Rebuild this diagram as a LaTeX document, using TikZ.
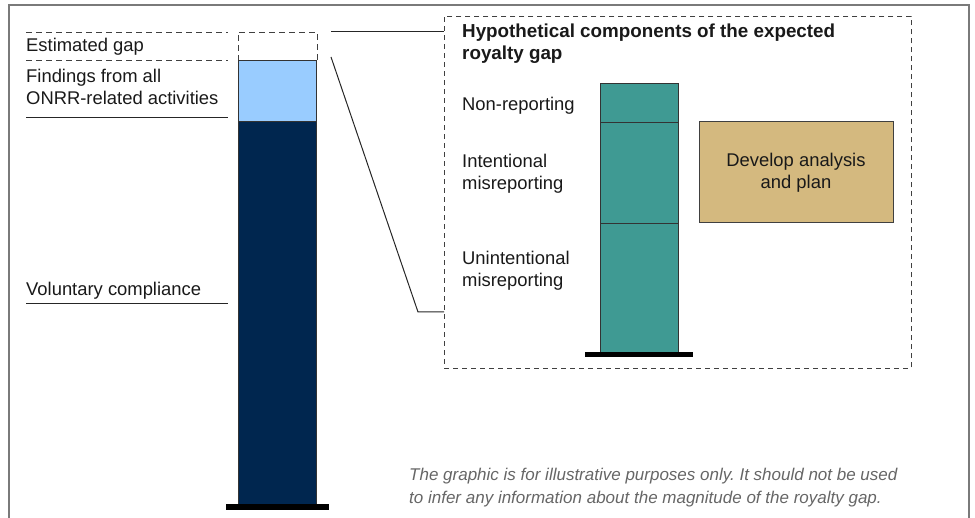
\documentclass[tikz,border=0pt]{standalone}
\usepackage{fontspec}
\setmainfont{Liberation Sans}
\frenchspacing
\definecolor{navy}{HTML}{00264F}
\definecolor{lightb}{HTML}{99CCFF}
\definecolor{teal2}{HTML}{3F9A93}
\definecolor{tan2}{HTML}{D4B97F}
\definecolor{framegray}{HTML}{7A7A7A}
\definecolor{notegray}{HTML}{666666}
\newcommand{\twolines}[2]{\parbox[t]{480pt}{\raggedright #1\\#2}}
\tikzset{
  lbl/.style={anchor=base west, inner sep=0pt, font=\fontsize{18.4}{22}\selectfont, text=black!90},
  barseg/.style={draw=black!80, line width=0.9pt, minimum width=78pt, anchor=north west, inner sep=0pt},
  basebar/.style={fill=black, draw=none, anchor=north west, inner sep=0pt},
  dashln/.style={draw=black!75, line width=0.8pt, dash pattern=on 6pt off 4pt},
  solidln/.style={draw=black!85, line width=1pt},
  conn/.style={draw=black!85, line width=1pt},
  framel/.style={draw=framegray, line width=1.8pt},
}
\begin{document}
\begin{tikzpicture}[x=1pt,y=-1pt]
\useasboundingbox (0,0) rectangle (975,518);
% frame
\draw[framel] (9,520) -- (9,5) -- (969,5) -- (969,520);

% left bar
\node[barseg, draw=none, minimum height=28pt] (gap) at (238,32) {};
\draw[dashln] (gap.south west) |- (gap.north east) -- (gap.south east);
\node[barseg, fill=lightb, minimum height=61pt] (find) at (238,60) {};
\node[barseg, fill=navy, minimum height=383pt] (vol) at (238,121) {};
\node[basebar, minimum width=103pt, minimum height=6pt] (lbase) at (226,504) {};

% left labels
\draw[dashln] (26,32) -- (228,32);
\node[lbl] (tgap) at (26,52) {Estimated gap};
\draw[dashln] (26,60) -- (228,60);
\node[lbl] (tfind) at (26,83) {\twolines{Findings from all}{ONRR-related activities}};
\draw[solidln] (26,118) -- (228,118);
\node[lbl] (tvol) at (26,296) {Voluntary compliance};
\draw[solidln] (26,304) -- (228,304);

% dashed box
\node[draw=black!75, line width=0.8pt, dash pattern=on 5pt off 4pt, minimum width=467pt, minimum height=352pt, anchor=north west, inner sep=0pt] (box) at (444,16) {};

% connectors
\coordinate (c1) at (331,32);
\coordinate (c2) at (331,57);
\coordinate (c3) at (418,312);
\draw[conn] (c1) -- (c1 -| box.west);
\draw[conn] (c2) -- (c3) -- (c3 -| box.west);

% title
\node[lbl, font=\fontsize{18.8}{22}\selectfont\bfseries] (title) at (462,38) {\twolines{Hypothetical components of the expected}{royalty gap}};

% teal bar
\node[barseg, fill=teal2, minimum height=39pt] (nonrep) at (600,83) {};
\node[barseg, fill=teal2, minimum height=101pt] (intent) at (600,122) {};
\node[barseg, fill=teal2, minimum height=129pt] (unint) at (600,223) {};
\node[basebar, minimum width=108pt, minimum height=5pt] (tbase) at (585,352) {};

% teal labels
\node[lbl] (tnon) at (462,111) {Non-reporting};
\node[lbl] (tint) at (462,168) {\twolines{Intentional}{misreporting}};
\node[lbl] (tun) at (462,265) {\twolines{Unintentional}{misreporting}};

% develop box
\node[draw=black!75, line width=1pt, fill=tan2, minimum width=194pt, minimum height=101pt, align=center, font=\fontsize{18.4}{22}\selectfont, text=black!90] (dev) at (796,172.5) {Develop analysis\\and plan};

% footnote
\node[anchor=base west, inner sep=0pt, font=\fontsize{17}{23}\selectfont\itshape, text=notegray] (note) at (409,481) {\parbox[t]{560pt}{\raggedright The graphic is for illustrative purposes only. It should not be used\\to infer any information about the magnitude of the royalty gap.}};
\end{tikzpicture}
\end{document}
